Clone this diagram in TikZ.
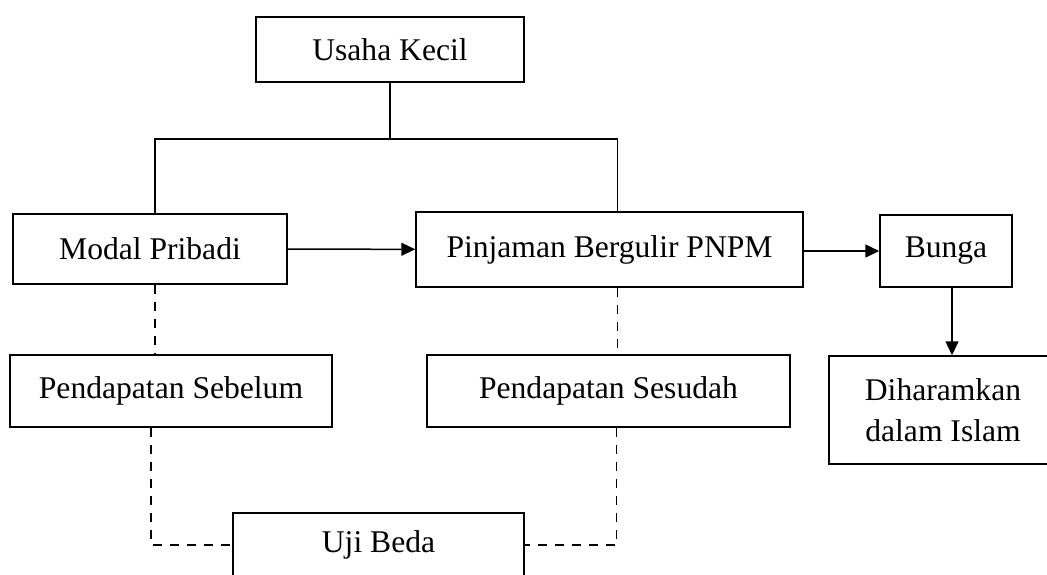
\documentclass[tikz,border=0pt]{standalone}
\usepackage{fontspec}
\setmainfont{Liberation Serif}
\usetikzlibrary{arrows.meta}

\begin{document}
\begin{tikzpicture}[x=0.5pt,y=-0.5pt,>={Triangle[length=7pt,width=6.5pt]},
		line width=0.75pt,
		box/.style={shape=rectangle,draw,align=center,inner sep=0pt,
			font=\fontsize{15.8}{20.5}\selectfont},
		link/.style={dash pattern=on 4.5pt off 4pt}]
		\useasboundingbox (0,0) rectangle (1047,574);
		% create the nodes
		\node[box,minimum width=134pt,minimum height=32.5pt] (usaha) at (390,49.5) {Usaha Kecil};
		\node[box,minimum width=137pt,minimum height=35pt] (modal) at (150,249) {Modal Pribadi};
		\node[box,minimum width=193.5pt,minimum height=37.5pt] (pinjaman) at (609.5,249.5) {Pinjaman Bergulir PNPM};
		\node[box,minimum width=66pt,minimum height=36pt] (bunga) at (946,251) {Bunga};
		\node[box,minimum width=161pt,minimum height=36pt] (sebelum) at (171,391) {Pendapatan Sebelum};
		\node[box,minimum width=181.5pt,minimum height=36pt] (sesudah) at (608.5,391) {Pendapatan Sesudah};
		\node[box,minimum width=114pt,minimum height=54pt] (haram) at (943,410) {Diharamkan\\dalam Islam};
		\node[box,minimum width=145.5pt,minimum height=32pt] (uji) at (378.5,545) {Uji Beda};
		\coordinate (fork) at (390,139);

		% connect the nodes
		\draw (usaha) -- (fork);
		\draw ([xshift=2.5pt]modal.north) |- (fork) -| ([xshift=4pt]pinjaman.north);
		\draw[->] (modal) -- (pinjaman);
		\draw[->] (pinjaman.east |- bunga.west) -- (bunga.west);
		\draw[->] ([xshift=3pt]bunga.south) -- ([xshift=3pt]bunga.south |- haram.north);
		\draw[link] ([xshift=2.5pt]modal.south) -- ([xshift=2.5pt]modal.south |- sebelum.north);
		\draw[link] ([xshift=4pt]pinjaman.south) -- ([xshift=4pt]pinjaman.south |- sesudah.north);
		\draw[link] ([xshift=0.5pt]modal.south |- sebelum.south) |- (uji.west);
		\draw[link] ([xshift=3.5pt]pinjaman.south |- sesudah.south) |- (uji.east);

	\end{tikzpicture}
\end{document}
